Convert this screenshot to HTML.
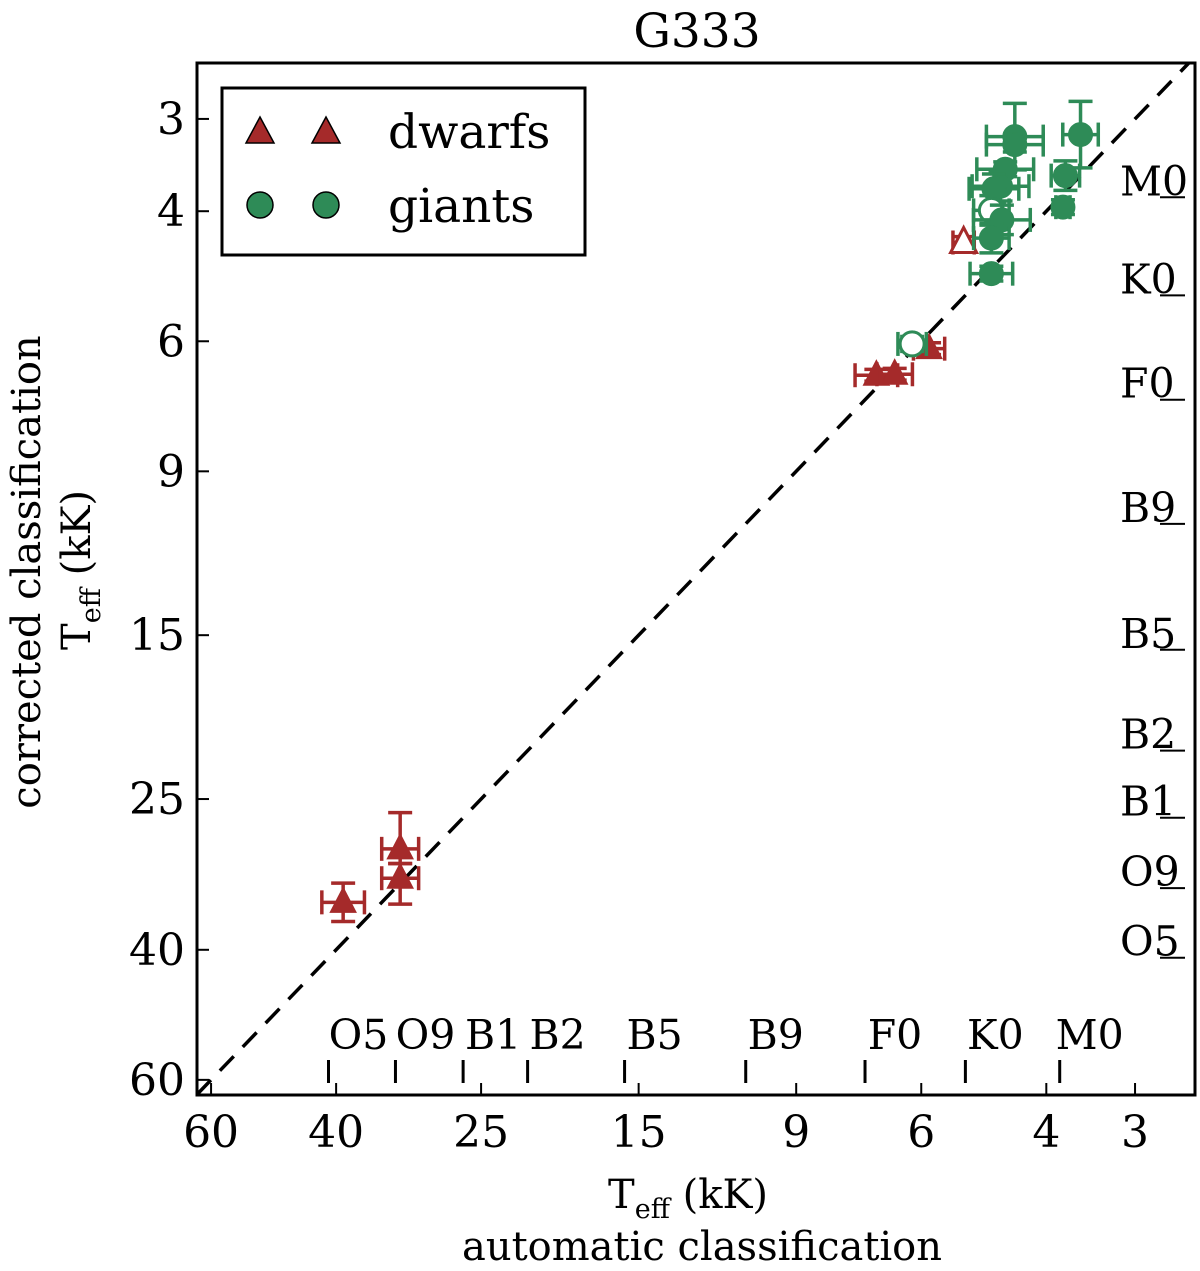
<!DOCTYPE html>
<html><head><meta charset="utf-8"><style>
body{margin:0;background:#fff}
svg text{font-family:"DejaVu Serif","Liberation Serif",serif;fill:#000}
</style></head><body>
<svg id="chart" width="1200" height="1266" xmlns="http://www.w3.org/2000/svg"></svg>
<script>
const xTicks=[60,40,25,15,9,6,4,3];
const yTicks=[3,4,6,9,15,25,40,60];
const specTypes=["O5","O9","B1","B2","B5","B9","F0","K0","M0"];
const specTemps=[41,33,26.5,21.5,15.7,10.6,7.2,5.2,3.83];
const dwarfX=[39.1,32.5,32.5,6.94,6.54,5.85,5.23];
const dwarfY=[34.5,29.2,32.0,6.67,6.65,6.14,4.41];
const dwarfXerr=[0.03,0.026,0.026,0.03,0.025,0.022,0.015];
const dwarfYup=[0.026,0.049,0.02,0.008,0.008,0.008,0.008];
const dwarfYdn=[0.026,0.02,0.035,0.008,0.008,0.008,0.008];
const dwarfOpen=[0,0,0,0,0,0,1];
const giantX=[4.43,4.43,3.58,4.57,4.64,4.74,3.76,3.79,4.78,4.62,4.78,4.78,6.18];
const giantY=[3.17,3.25,3.15,3.51,3.70,3.73,3.58,3.95,3.99,4.11,4.35,4.86,6.05];
const giantXerr=[0.04,0.04,0.025,0.04,0.04,0.035,0.02,0.01,0.025,0.04,0.025,0.03,0.02];
const giantYerr=[0.045,0.01,0.045,0.01,0.02,0.02,0.02,0.01,0.02,0.02,0.02,0.01,0.01];
const giantOpen=[0,0,0,0,0,0,0,0,1,0,0,0,1];

const L=197,R=1195,T=63,B=1095;
const xmin=62.8,xmax=2.47,ymin=2.52,ymax=62.9;
const xs=v=>L+(Math.log10(xmin)-Math.log10(v))/(Math.log10(xmin)-Math.log10(xmax))*(R-L);
const ys=v=>T+(Math.log10(v)-Math.log10(ymin))/(Math.log10(ymax)-Math.log10(ymin))*(B-T);
const svg=document.getElementById('chart');
const NS='http://www.w3.org/2000/svg';
function mk(tag,at,txt){const e=document.createElementNS(NS,tag);for(const k in at)e.setAttribute(k,at[k]);if(txt!==undefined)e.textContent=txt;svg.appendChild(e);return e;}
const RED='#a52a2a',GRN='#2e8b57';

let d=mk('line',{x1:xs(xmin),y1:ys(xmin),x2:xs(ymin),y2:ys(ymin),stroke:'#000','stroke-width':3.5,'stroke-dasharray':'20,13'});



xTicks.forEach(v=>{const x=xs(v);
 let l=mk('line',{x1:x,y1:B,x2:x,y2:B-12,stroke:'#000','stroke-width':2});
 
 let t=mk('text',{x:x,y:B+52,'text-anchor':'middle','font-size':44},String(v));
 });
yTicks.forEach(v=>{const y=ys(v);
 let l=mk('line',{x1:L,y1:y,x2:L+12,y2:y,stroke:'#000','stroke-width':2});
 
 let t=mk('text',{x:L-12,y:y+15,'text-anchor':'end','font-size':44},String(v));
 });
specTypes.forEach((s,i)=>{const x=xs(specTemps[i]),y=ys(specTemps[i]);
 let l=mk('line',{x1:x,y1:B-35,x2:x,y2:B-12,stroke:'#000','stroke-width':3});
 
 let t=mk('text',{x:x+30,y:B-46,'text-anchor':'middle','font-size':41},s);
 
 let l2=mk('line',{x1:R-35,y1:y,x2:R-10,y2:y,stroke:'#000','stroke-width':2});
 
 let t2=mk('text',{x:1120,y:y-2,'font-size':41},s);
 });

function errbar(x,y,xe,yu,yd,c){
 const x0=xs(x*Math.pow(10,xe)),x1=xs(x/Math.pow(10,xe));
 const y0=ys(y/Math.pow(10,yu)),y1=ys(y*Math.pow(10,yd));
 const cx=xs(x),cy=ys(y);
 const g=mk('g',{stroke:c,'stroke-width':3.5,fill:'none'});
 
 [[x0,cy,x1,cy],[cx,y0,cx,y1],[x0,cy-12,x0,cy+12],[x1,cy-12,x1,cy+12],[cx-12,y0,cx+12,y0],[cx-12,y1,cx+12,y1]].forEach(a=>{
  const e=document.createElementNS(NS,'line');e.setAttribute('x1',a[0]);e.setAttribute('y1',a[1]);e.setAttribute('x2',a[2]);e.setAttribute('y2',a[3]);g.appendChild(e);});
}
dwarfX.forEach((v,i)=>{errbar(v,dwarfY[i],dwarfXerr[i],dwarfYup[i],dwarfYdn[i],RED);
 const x=xs(v),y=ys(dwarfY[i]);
 let p=mk('polygon',{points:`${x},${y-15} ${x-13},${y+10} ${x+13},${y+10}`,fill:dwarfOpen[i]?'#fff':RED,stroke:RED,'stroke-width':dwarfOpen[i]?3:1});
 });
giantX.forEach((v,i)=>{errbar(v,giantY[i],giantXerr[i],giantYerr[i],giantYerr[i],GRN);
 let c=mk('circle',{cx:xs(v),cy:ys(giantY[i]),r:12,fill:giantOpen[i]?'#fff':GRN,stroke:GRN,'stroke-width':giantOpen[i]?3:1});
 });

let fr=mk('rect',{x:L,y:T,width:R-L,height:B-T,fill:'none',stroke:'#000','stroke-width':3});


let lg=mk('rect',{x:222,y:88,width:363,height:167,fill:'#fff',stroke:'#000','stroke-width':3});

[[260,RED],[326,RED]].forEach(a=>{let p=mk('polygon',{points:`${a[0]},${117} ${a[0]-14},${143} ${a[0]+14},${143}`,fill:a[1],stroke:'#000','stroke-width':1.5});
 });
[260,326].forEach(x=>{let c=mk('circle',{cx:x,cy:205,r:13,fill:GRN,stroke:'#000','stroke-width':1.5});
 });
let t1=mk('text',{x:388,y:148,'font-size':47},'dwarfs');
let t2=mk('text',{x:388,y:222,'font-size':47},'giants');

let ti=mk('text',{x:697,y:47,'text-anchor':'middle','font-size':47},'G333');
let xl=mk('text',{x:688,y:1208,'text-anchor':'middle','font-size':40});xl.innerHTML='T<tspan font-size="27" dy="10">eff</tspan><tspan dy="-10"> (kK)</tspan>';

let xl2=mk('text',{x:702,y:1260,'text-anchor':'middle','font-size':40},'automatic classification');

let yl=mk('text',{x:0,y:0,'text-anchor':'middle','font-size':40,transform:'translate(40,572) rotate(-90)'},'corrected classification');

let yl2=mk('text',{x:0,y:0,'text-anchor':'middle','font-size':40,transform:'translate(90,570) rotate(-90)'});yl2.innerHTML='T<tspan font-size="27" dy="10">eff</tspan><tspan dy="-10"> (kK)</tspan>';

</script>
</body></html>
